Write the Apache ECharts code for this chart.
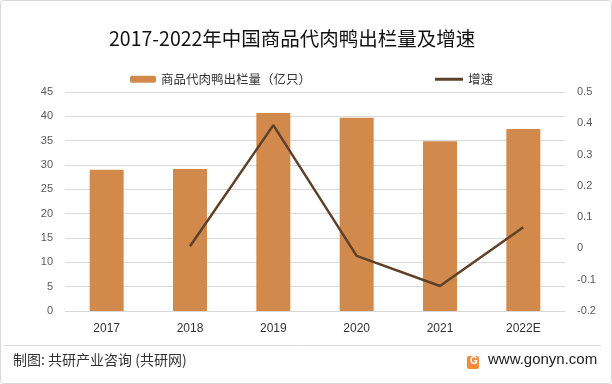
<!DOCTYPE html>
<html><head><meta charset="utf-8">
<script src="https://cdn.jsdelivr.net/npm/echarts@6/dist/echarts.min.js"></script>
<style>html,body{margin:0;padding:0;background:#fff}#c{width:612px;height:384px}</style>
</head><body><div id="c"></div>
<script>
var categories = ['2017','2018','2019','2020','2021','2022E'];
var stock = [29.0, 29.2, 40.7, 39.7, 34.9, 37.4];
var growth = [null, 0.007, 0.394, -0.024, -0.12, 0.068];
var leftTicks = [0,5,10,15,20,25,30,35,40,45];
var rightTicks = [-0.2,-0.1,0,0.1,0.2,0.3,0.4,0.5];
var barName = '商品代肉鸭出栏量（亿只）';
var lineName = '增速';
var titleText = '2017-2022年中国商品代肉鸭出栏量及增速';
var sourceText = '制图: 共研产业咨询 (共研网)';
var siteText = 'www.gonyn.com';

var font = '"Noto Sans CJK SC","Noto Sans",sans-serif';
var chart = echarts.init(document.getElementById('c'), null, {renderer:'canvas'});
chart.setOption({
  animation:false,
  backgroundColor:'#fff',
  title:{text:titleText,left:104,top:24,textStyle:{fontFamily:font,fontSize:19.5,fontWeight:'normal',color:'#111'}},
  legend:[
    {data:[barName],left:125,top:68,itemWidth:26,itemHeight:7,itemGap:4,textStyle:{fontFamily:font,fontSize:12.5,color:'#333'}},
    {data:[{name:lineName,icon:'rect',itemStyle:{color:'#5e4129'}}],left:430,top:68,itemWidth:28,itemHeight:3,textStyle:{fontFamily:font,fontSize:12.5,color:'#333'}}
  ],
  grid:{left:65,right:47,top:92,bottom:73},
  xAxis:{type:'category',data:categories,axisTick:{show:false},axisLine:{show:true,lineStyle:{color:'#d9d9d9'}},
    axisLabel:{fontFamily:'"Liberation Sans",Arial,sans-serif',fontSize:12,color:'#333',margin:12}},
  yAxis:[
    {type:'value',min:0,max:45,interval:5,splitLine:{lineStyle:{color:'#d9d9d9'}},axisLine:{show:false},axisTick:{show:false},
      axisLabel:{fontFamily:'"Liberation Sans",Arial,sans-serif',fontSize:11,color:'#595959',margin:12}},
    {type:'value',min:-0.2,max:0.5,interval:0.1,splitLine:{show:false},axisLine:{show:false},axisTick:{show:false},
      axisLabel:{fontFamily:'"Liberation Sans",Arial,sans-serif',fontSize:11,color:'#595959',margin:12,
        formatter:function(v){return String(Math.round(v*10)/10);}}}
  ],
  series:[
    {name:barName,type:'bar',data:stock,barWidth:34,itemStyle:{color:'#d28a4c'}},
    {name:lineName,type:'line',yAxisIndex:1,data:growth,symbol:'none',lineStyle:{color:'#5e4129',width:2.5},itemStyle:{color:'#5e4129'}}
  ],
  graphic:[
    {type:'rect',shape:{x:0.5,y:0.5,width:611,height:383,r:3},style:{fill:'none',stroke:'#d9d9d9',lineWidth:1}},
    {type:'line',shape:{x1:4,y1:345.5,x2:601,y2:345.5},style:{stroke:'#d9d9d9',lineWidth:1}},
    {type:'text',left:13,top:353,style:{text:sourceText,font:'14px "Noto Sans CJK SC",sans-serif',fill:'#333'}},
    {type:'rect',shape:{x:467,y:356,width:12,height:13,r:2},style:{fill:'#f08c3c'}},
    {type:'text',left:470,top:356,style:{text:'G',font:'bold 10px sans-serif',fill:'#fff'}},
    {type:'text',left:488,top:352,style:{text:siteText,font:'15px "Liberation Sans",Arial,sans-serif',fill:'#222'}}
  ]
});
</script></body></html>
